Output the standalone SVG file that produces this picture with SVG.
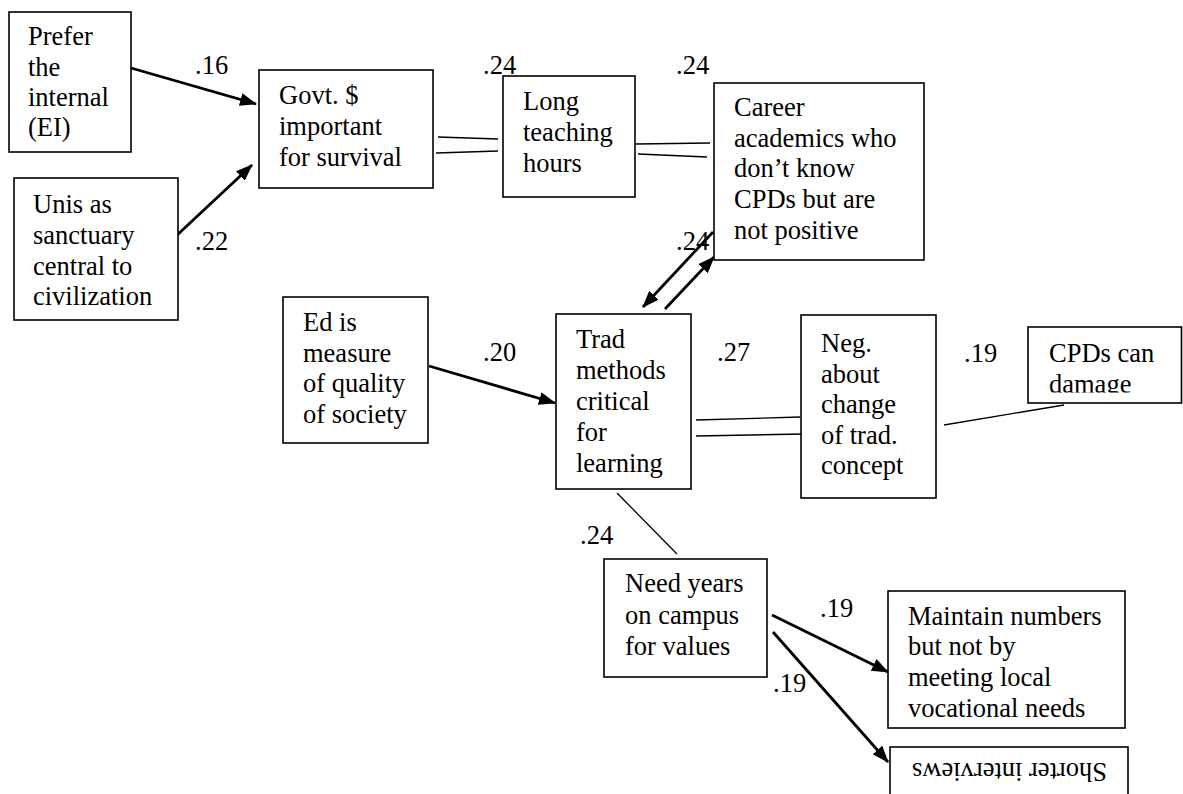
<svg xmlns="http://www.w3.org/2000/svg" width="1183" height="794" viewBox="0 0 1183 794">
<style>
.box{fill:#fff;stroke:#000;stroke-width:1.6}
.t{font-family:'Liberation Serif','Times New Roman',serif;font-size:26.5px;fill:#000}
.ln{stroke:#000;stroke-width:1.3;fill:none}
.ar{stroke:#000;stroke-width:2.8;fill:none;marker-end:url(#ah)}
</style>
<defs>
<marker id="ah" markerUnits="userSpaceOnUse" viewBox="0 0 17 13" refX="16" refY="6.5" markerWidth="17" markerHeight="13" orient="auto">
<path d="M0,0 L17,6.5 L0,13 Z" fill="#000"/>
</marker>
<clipPath id="cpdclip"><rect x="1028" y="327" width="155" height="65.5"/></clipPath>
</defs>
<rect width="1183" height="794" fill="#fff"/>

<g id="connectors">
<line class="ar" x1="131" y1="68" x2="256" y2="104"/>
<line class="ar" x1="175" y1="237" x2="252" y2="165"/>
<line class="ar" x1="429" y1="366" x2="555" y2="403"/>
<line class="ar" x1="713" y1="232" x2="643" y2="307"/>
<line class="ar" x1="665" y1="309" x2="714" y2="257"/>
<line class="ar" x1="772" y1="615" x2="888" y2="672"/>
<line class="ar" x1="773" y1="632" x2="888" y2="762"/>
<line class="ln" x1="438" y1="137" x2="498" y2="139"/>
<line class="ln" x1="436" y1="153" x2="498" y2="151"/>
<line class="ln" x1="636" y1="144" x2="710" y2="143"/>
<line class="ln" x1="638" y1="154" x2="707" y2="157"/>
<line class="ln" x1="696" y1="420" x2="800" y2="417"/>
<line class="ln" x1="696" y1="436" x2="803" y2="434"/>
<line class="ln" x1="944" y1="425" x2="1064" y2="405"/>
<line class="ln" x1="617" y1="493" x2="677" y2="554"/>
</g>

<g id="labels" class="t">
<text x="195" y="74">.16</text>
<text x="195" y="250">.22</text>
<text x="483" y="74">.24</text>
<text x="676" y="74">.24</text>
<text x="676" y="250">.24</text>
<text x="483" y="361">.20</text>
<text x="717" y="361">.27</text>
<text x="964" y="362">.19</text>
<text x="580" y="544">.24</text>
<text x="820" y="617">.19</text>
<text x="773" y="692">.19</text>
</g>

<g id="prefer">
<rect class="box" x="9" y="12" width="122" height="140"/>
<text class="t"><tspan x="28" y="45">Prefer</tspan><tspan x="28" y="75.5">the</tspan><tspan x="28" y="106">internal</tspan><tspan x="28" y="136">(EI)</tspan></text>
</g>
<g id="unis">
<rect class="box" x="14" y="178" width="164" height="142"/>
<text class="t"><tspan x="33" y="213">Unis as</tspan><tspan x="33" y="244">sanctuary</tspan><tspan x="33" y="274.5">central to</tspan><tspan x="33" y="305">civilization</tspan></text>
</g>
<g id="govt">
<rect class="box" x="259" y="70" width="174" height="118"/>
<text class="t"><tspan x="279" y="104">Govt. $</tspan><tspan x="279" y="135">important</tspan><tspan x="279" y="166">for survival</tspan></text>
</g>
<g id="long">
<rect class="box" x="503" y="76" width="132" height="121"/>
<text class="t"><tspan x="523" y="110">Long</tspan><tspan x="523" y="141">teaching</tspan><tspan x="523" y="172">hours</tspan></text>
</g>
<g id="career">
<rect class="box" x="714" y="83" width="210" height="177"/>
<text class="t"><tspan x="734" y="116">Career</tspan><tspan x="734" y="146.5">academics who</tspan><tspan x="734" y="177">don’t know</tspan><tspan x="734" y="208">CPDs but are</tspan><tspan x="734" y="239">not positive</tspan></text>
</g>
<g id="ed">
<rect class="box" x="283" y="297" width="145" height="146"/>
<text class="t"><tspan x="303" y="331">Ed is</tspan><tspan x="303" y="361.5">measure</tspan><tspan x="303" y="392">of quality</tspan><tspan x="303" y="423">of society</tspan></text>
</g>
<g id="trad">
<rect class="box" x="556" y="314" width="135" height="175"/>
<text class="t"><tspan x="576" y="348">Trad</tspan><tspan x="576" y="379">methods</tspan><tspan x="576" y="410">critical</tspan><tspan x="576" y="441">for</tspan><tspan x="576" y="472">learning</tspan></text>
</g>
<g id="neg">
<rect class="box" x="801" y="315" width="135" height="183"/>
<text class="t"><tspan x="821" y="352">Neg.</tspan><tspan x="821" y="382.5">about</tspan><tspan x="821" y="413">change</tspan><tspan x="821" y="443.5">of trad.</tspan><tspan x="821" y="474">concept</tspan></text>
</g>
<g id="cpds">
<rect class="box" x="1028" y="327" width="153.5" height="76"/>
<text class="t" clip-path="url(#cpdclip)"><tspan x="1049" y="362">CPDs can</tspan><tspan x="1049" y="393">damage</tspan></text>
</g>
<g id="need">
<rect class="box" x="604" y="559" width="163" height="118"/>
<text class="t"><tspan x="625" y="592">Need years</tspan><tspan x="625" y="623.5">on campus</tspan><tspan x="625" y="655">for values</tspan></text>
</g>
<g id="maintain">
<rect class="box" x="888" y="591" width="237" height="137"/>
<text class="t"><tspan x="908" y="625">Maintain numbers</tspan><tspan x="908" y="655">but not by</tspan><tspan x="908" y="686">meeting local</tspan><tspan x="908" y="717">vocational needs</tspan></text>
</g>
<g id="shorter">
<rect class="box" x="890" y="747" width="238" height="60"/>
<text class="t" transform="translate(1107,763) rotate(180)" x="0" y="0">Shorter interviews</text>
</g>
</svg>
